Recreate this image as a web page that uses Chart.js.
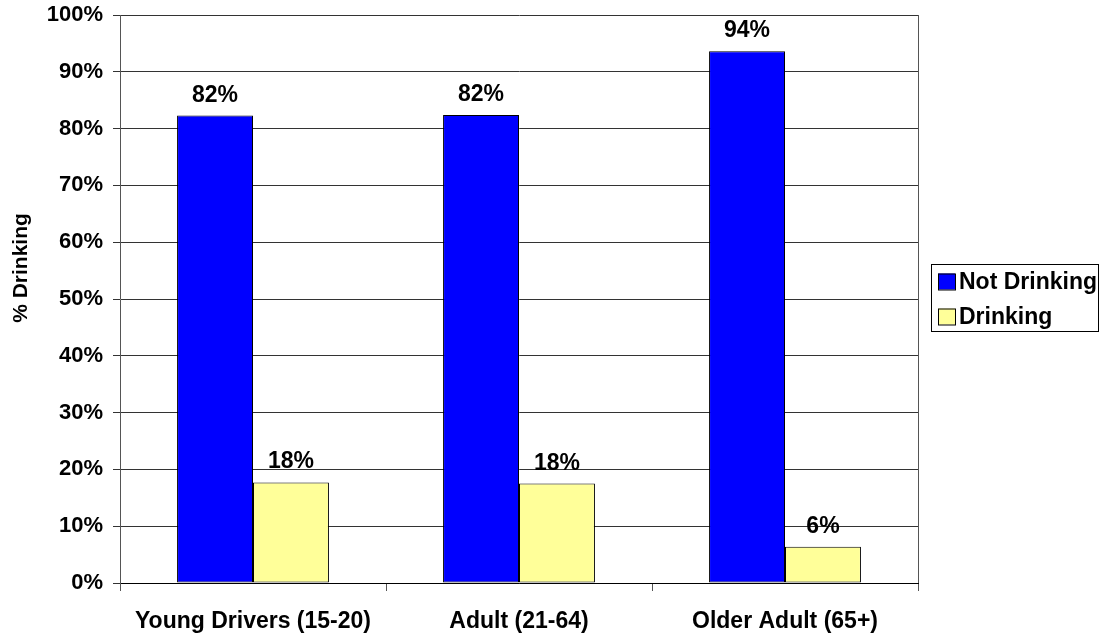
<!DOCTYPE html>
<html>
<head>
<meta charset="utf-8">
<script src="https://cdn.jsdelivr.net/npm/chart.js@4/dist/chart.umd.min.js"></script>
<style>
    html, body { margin: 0; padding: 0; background: #fff; }
    #wrap { width: 1108px; height: 634px; }
</style>
</head>
<body>
<div id="wrap"><canvas id="drinkChart" width="1108" height="634"></canvas></div>
<script>
const categories = ["Young Drivers (15-20)", "Adult (21-64)", "Older Adult (65+)"];
const notDrinking = [82.3, 82.4, 93.6];
const drinking = [17.7, 17.5, 6.4];
const seriesNames = ["Not Drinking", "Drinking"];
const seriesColors = ["#0000FF", "#FFFF99"];
const yTicks = [0, 10, 20, 30, 40, 50, 60, 70, 80, 90, 100];

const FONT = "'Liberation Sans', Arial, sans-serif";

// bar value labels, plot frame, y title and boxed legend
const extrasPlugin = {
    id: "extras",
    afterDatasetsDraw(chart) {
        const ctx = chart.ctx;
        const area = chart.chartArea;
        ctx.save();

        // value labels above bars
        ctx.font = `bold 23px ${FONT}`;
        ctx.fillStyle = "#000";
        ctx.textAlign = "center";
        ctx.textBaseline = "alphabetic";
        chart.data.datasets.forEach((ds, di) => {
            chart.getDatasetMeta(di).data.forEach((bar, i) => {
                ctx.fillText(Math.round(ds.data[i]) + "%", bar.x, bar.y - 14);
            });
        });

        // right edge of plot frame
        ctx.strokeStyle = "#555";
        ctx.lineWidth = 1;
        ctx.beginPath();
        ctx.moveTo(Math.round(area.right) + 0.5, area.top);
        ctx.lineTo(Math.round(area.right) + 0.5, area.bottom);
        ctx.stroke();

        // y axis title
        ctx.save();
        ctx.translate(21, 268);
        ctx.rotate(-Math.PI / 2);
        ctx.font = `bold 21px ${FONT}`;
        ctx.textBaseline = "middle";
        ctx.fillText("% Drinking", 0, 0);
        ctx.restore();

        // legend box
        const lx = 931, ly = 264, lw = 167, lh = 67;
        ctx.fillStyle = "#fff";
        ctx.fillRect(lx, ly, lw, lh);
        ctx.strokeStyle = "#000";
        ctx.strokeRect(lx + 0.5, ly + 0.5, lw, lh);
        ctx.font = `bold 23px ${FONT}`;
        ctx.textAlign = "left";
        ctx.textBaseline = "middle";
        seriesNames.forEach((name, i) => {
            const cy = 281.5 + i * 35;
            ctx.fillStyle = seriesColors[i];
            ctx.fillRect(938, cy - 8, 17, 16);
            ctx.strokeStyle = "#000";
            ctx.strokeRect(938.5, cy - 7.5, 17, 16);
            ctx.fillStyle = "#000";
            ctx.fillText(name, 959, cy + 1);
        });

        ctx.restore();
    },
};

new Chart(document.getElementById("drinkChart"), {
    type: "bar",
    data: {
        labels: categories,
        datasets: [
            {
                label: seriesNames[0],
                data: notDrinking,
                backgroundColor: seriesColors[0],
                borderColor: "#000",
                borderWidth: 1,
                borderSkipped: false,
                categoryPercentage: 0.571,
                barPercentage: 1,
            },
            {
                label: seriesNames[1],
                data: drinking,
                backgroundColor: seriesColors[1],
                borderColor: "#000",
                borderWidth: 1,
                borderSkipped: false,
                categoryPercentage: 0.571,
                barPercentage: 1,
            },
        ],
    },
    options: {
        responsive: false,
        animation: false,
        layout: { padding: { top: 15, right: 190, left: 0, bottom: 0 } },
        plugins: {
            legend: { display: false },
            tooltip: { enabled: false },
        },
        scales: {
            x: {
                grid: {
                    offset: true,
                    drawOnChartArea: false,
                    drawTicks: true,
                    tickLength: 8,
                    color: "#555",
                },
                border: { color: "#000", width: 1 },
                ticks: {
                    color: "#000",
                    font: { family: FONT, size: 23, weight: "bold" },
                    padding: 17,
                    maxRotation: 0,
                },
                afterFit: (s) => { s.height = 51; },
            },
            y: {
                min: 0,
                max: 100,
                afterBuildTicks: (s) => { s.ticks = yTicks.map((v) => ({ value: v })); },
                grid: {
                    color: "#333",
                    tickLength: 7,
                },
                border: { color: "#555", width: 1 },
                ticks: {
                    color: "#000",
                    padding: 10,
                    font: { family: FONT, size: 22, weight: "bold" },
                    callback: (v) => v + "%",
                },
                afterFit: (s) => {
                    s.width = 120;
                    s.paddingTop = 0;
                    s.paddingBottom = 0;
                },
            },
        },
    },
    plugins: [extrasPlugin],
});
</script>
</body>
</html>
